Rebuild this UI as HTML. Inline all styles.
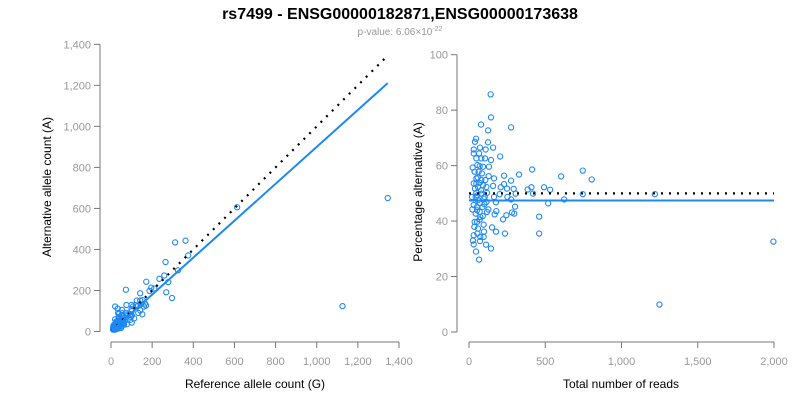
<!DOCTYPE html>
<html><head><meta charset="utf-8"><style>
body{margin:0;background:#fff}
svg{font-family:"Liberation Sans",sans-serif}
</style></head><body>
<svg id="c" width="800" height="400">
<text x="400" y="19" text-anchor="middle" font-size="16" font-weight="bold">rs7499 - ENSG00000182871,ENSG00000173638</text>
<text x="400" y="35" text-anchor="middle" font-size="10" fill="#999">p-value: 6.06×10<tspan dy="-4" font-size="7">-22</tspan></text>
</svg>
<script>
const totals=[142,144,79,276,125,46,125,39,158,72,31,109,31,66,204,144,105,81,48,24,55,70,92,131,414,746,328,604,230,129,805,164,276,107,57,70,31,230,114,158,409,492,293,249,385,532,208,39,79,48,306,420,1219,746,201,118,55,20,164,252,276,624,96,177,519,70,31,101,302,127,22,53,179,118,282,297,44,168,245,460,90,70,223,37,96,35,151,59,98,177,236,460,55,31,74,96,26,1996,72,31,112,144,46,66,1249,48,59,81,92,44,59,81,53,70,88,37,63,85,48,103,114,74,53];
const pcts=[85.7,77.4,74.8,73.8,72.7,69.7,68.4,68.6,66.5,66.5,65.8,65.8,64.4,64.4,63.3,62.0,62.6,62.6,62.6,59.3,60.2,59.8,59.6,59.6,58.6,58.2,56.8,56.1,56.4,56.2,55.0,55.4,54.6,54.8,55.7,53.8,53.6,53.3,52.3,52.7,52.2,52.2,51.6,51.7,51.4,51.3,52.2,51.7,51.1,50.2,49.9,49.9,49.7,49.7,49.7,50.2,49.3,48.7,48.7,48.7,47.8,47.8,48.1,46.8,46.4,46.4,45.8,46.1,45.2,44.2,44.2,43.9,43.6,43.3,43.1,42.7,42.7,42.4,42.1,41.6,41.8,40.6,40.6,39.7,38.7,37.9,37.7,37.3,36.2,36.2,35.5,35.5,35.5,34.9,34.3,34.3,33.0,32.6,32.8,31.6,31.5,30.1,29.0,26.1,9.9,53.5,52.3,54.8,52.9,48.7,47.5,49.9,45.1,43.3,45.1,57.8,57.8,57.2,55.4,48.7,46.9,41.5,39.7];
const leftTicks=[0,200,400,600,800,1000,1200,1400];
const rightXTicks=[0,500,1000,1500,2000];
const rightYTicks=[0,20,40,60,80,100];
const fitSlope=0.9, expectedPct=50, fitPct=47.4, lineMaxRef=1345, maxTotal=2000;

const svg=document.getElementById('c');
const NS='http://www.w3.org/2000/svg';
function mk(tag,attrs,parent){const e=document.createElementNS(NS,tag);for(const k in attrs)e.setAttribute(k,attrs[k]);(parent||svg).appendChild(e);return e;}
const fmt=v=>v.toLocaleString('en-US');
const BLUE='#1E88F5', GRAY='#777';

const lx=v=>111+v*(399-111)/1400, ly=v=>331.5-v*(331.5-44.3)/1400;
const rx=v=>469+v*(774-469)/2000, ry=v=>332-v*(332-54.7)/100;

function axes(g,xs,ys,xTicks,yTicks,xAxisY,yAxisX){
  let e=mk('line',{x1:yAxisX,x2:yAxisX,y1:ys(yTicks[0]),y2:ys(yTicks[yTicks.length-1]),stroke:GRAY},g);
  
  yTicks.forEach(t=>{const y=ys(t);
    mk('line',{x1:yAxisX-6,x2:yAxisX,y1:y,y2:y,stroke:GRAY},g);
    const tx=mk('text',{x:yAxisX-9,y:y+4,'text-anchor':'end','font-size':11,fill:'#999'},g);tx.textContent=fmt(t);
    });
  e=mk('line',{x1:xs(xTicks[0]),x2:xs(xTicks[xTicks.length-1]),y1:xAxisY,y2:xAxisY,stroke:GRAY},g);
  
  xTicks.forEach(t=>{const x=xs(t);
    mk('line',{x1:x,x2:x,y1:xAxisY,y2:xAxisY+6,stroke:GRAY},g);
    const tx=mk('text',{x:x,y:xAxisY+23,'text-anchor':'middle','font-size':11,fill:'#999'},g);tx.textContent=fmt(t);
    });
}

const gl=mk('g',{});

axes(gl,lx,ly,leftTicks,leftTicks,342,100);
let t=mk('text',{x:255,y:388,'text-anchor':'middle','font-size':12},gl);t.textContent='Reference allele count (G)';

t=mk('text',{x:0,y:0,transform:'translate(51,187) rotate(-90)','text-anchor':'middle','font-size':12},gl);t.textContent='Alternative allele count (A)';

totals.forEach((tot,i)=>{const alt=tot*pcts[i]/100, ref=tot-alt;
  const c=mk('circle',{cx:lx(ref),cy:ly(alt),r:2.6,fill:'none',stroke:BLUE,'stroke-width':1.1},gl);
  });
let l=mk('line',{x1:lx(0),y1:ly(0),x2:lx(lineMaxRef),y2:ly(lineMaxRef),stroke:'#000','stroke-width':2.2,'stroke-dasharray':'2 6'},gl);

l=mk('line',{x1:lx(0),y1:ly(0),x2:lx(lineMaxRef),y2:ly(lineMaxRef*fitSlope),stroke:BLUE,'stroke-width':2},gl);


const gr=mk('g',{});

axes(gr,rx,ry,rightXTicks,rightYTicks,342,457);
t=mk('text',{x:621,y:388,'text-anchor':'middle','font-size':12},gr);t.textContent='Total number of reads';

t=mk('text',{x:0,y:0,transform:'translate(422,192) rotate(-90)','text-anchor':'middle','font-size':12},gr);t.textContent='Percentage alternative (A)';

totals.forEach((tot,i)=>{
  const c=mk('circle',{cx:rx(tot),cy:ry(pcts[i]),r:2.6,fill:'none',stroke:BLUE,'stroke-width':1.1},gr);
  });
l=mk('line',{x1:rx(0),y1:ry(expectedPct),x2:rx(maxTotal),y2:ry(expectedPct),stroke:'#000','stroke-width':2.2,'stroke-dasharray':'2 6'},gr);

l=mk('line',{x1:rx(0),y1:ry(fitPct),x2:rx(maxTotal),y2:ry(fitPct),stroke:BLUE,'stroke-width':2},gr);

</script>
</body></html>
